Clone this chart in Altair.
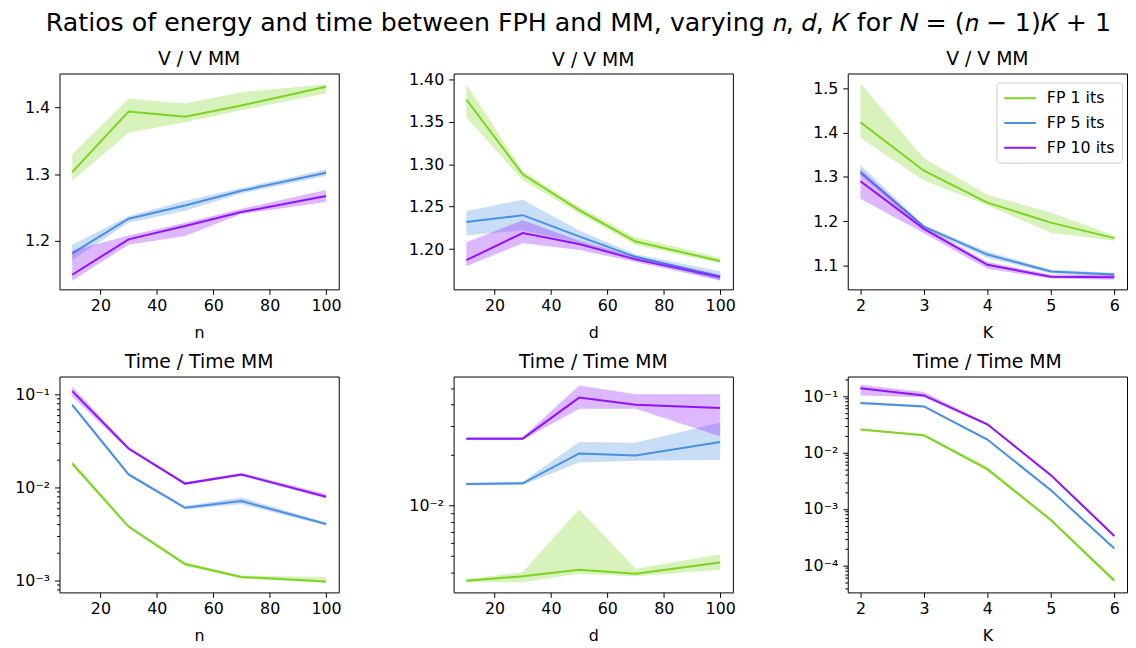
import math
import altair as alt
import pandas as pd

# ---------------- data ----------------
SERIES = ["FP 1 its", "FP 5 its", "FP 10 its"]
COLORS = ["#7ED321", "#4A90E2", "#9013FE"]

N_VALUES = [10, 30, 50, 70, 100]
D_VALUES = [10, 30, 50, 70, 100]
K_VALUES = [2, 3, 4, 5, 6]

# V / V MM vs n
VN_FP1 = [1.303, 1.394, 1.386, 1.403, 1.431]
VN_FP1_LO = [1.290, 1.362, 1.378, 1.396, 1.421]
VN_FP1_HI = [1.330, 1.413, 1.406, 1.423, 1.435]
VN_FP5 = [1.181, 1.233, 1.253, 1.275, 1.302]
VN_FP5_LO = [1.171, 1.227, 1.245, 1.271, 1.297]
VN_FP5_HI = [1.194, 1.237, 1.260, 1.279, 1.307]
VN_FP10 = [1.149, 1.202, 1.222, 1.243, 1.267]
VN_FP10_LO = [1.140, 1.194, 1.207, 1.240, 1.258]
VN_FP10_HI = [1.185, 1.208, 1.227, 1.248, 1.276]

# V / V MM vs d
VD_FP1 = [1.376, 1.288, 1.246, 1.209, 1.186]
VD_FP1_LO = [1.355, 1.281, 1.242, 1.205, 1.183]
VD_FP1_HI = [1.394, 1.292, 1.250, 1.214, 1.190]
VD_FP5 = [1.232, 1.240, 1.215, 1.191, 1.168]
VD_FP5_LO = [1.216, 1.222, 1.208, 1.189, 1.163]
VD_FP5_HI = [1.245, 1.258, 1.222, 1.194, 1.174]
VD_FP10 = [1.187, 1.219, 1.206, 1.188, 1.167]
VD_FP10_LO = [1.180, 1.207, 1.199, 1.185, 1.163]
VD_FP10_HI = [1.208, 1.234, 1.210, 1.191, 1.170]

# V / V MM vs K
VK_FP1 = [1.423, 1.314, 1.242, 1.197, 1.162]
VK_FP1_LO = [1.388, 1.292, 1.236, 1.174, 1.156]
VK_FP1_HI = [1.511, 1.342, 1.260, 1.220, 1.168]
VK_FP5 = [1.310, 1.188, 1.125, 1.087, 1.080]
VK_FP5_LO = [1.303, 1.183, 1.117, 1.083, 1.076]
VK_FP5_HI = [1.327, 1.191, 1.132, 1.091, 1.084]
VK_FP10 = [1.290, 1.183, 1.102, 1.075, 1.074]
VK_FP10_LO = [1.251, 1.173, 1.093, 1.071, 1.068]
VK_FP10_HI = [1.318, 1.188, 1.108, 1.080, 1.080]

# Time / Time MM vs n
TN_FP1 = [0.0181, 0.00379, 0.00150, 0.00109, 0.000975]
TN_FP1_LO = [0.0171, 0.00362, 0.00143, 0.00104, 0.000945]
TN_FP1_HI = [0.0192, 0.00395, 0.00157, 0.00113, 0.00109]
TN_FP5 = [0.0775, 0.0138, 0.00605, 0.00714, 0.00405]
TN_FP5_LO = [0.074, 0.0133, 0.0058, 0.0066, 0.0039]
TN_FP5_HI = [0.081, 0.0143, 0.0063, 0.0078, 0.0042]
TN_FP10 = [0.1086, 0.0262, 0.0110, 0.0138, 0.00794]
TN_FP10_LO = [0.0952, 0.0252, 0.0106, 0.0133, 0.0076]
TN_FP10_HI = [0.122, 0.0272, 0.0114, 0.0143, 0.0085]

# Time / Time MM vs d
TD_FP1 = [0.00357, 0.00379, 0.00415, 0.00393, 0.00458]
TD_FP1_LO = [0.00349, 0.00349, 0.00393, 0.00379, 0.00415]
TD_FP1_HI = [0.00365, 0.00402, 0.00952, 0.00420, 0.00514]
TD_FP5 = [0.01345, 0.0136, 0.0205, 0.0199, 0.0240]
TD_FP5_LO = [0.0132, 0.0133, 0.0181, 0.0185, 0.0187]
TD_FP5_HI = [0.0137, 0.0139, 0.0240, 0.0237, 0.0313]
TD_FP10 = [0.0251, 0.0251, 0.0441, 0.0400, 0.0382]
TD_FP10_LO = [0.0246, 0.0246, 0.0379, 0.0379, 0.0259]
TD_FP10_HI = [0.0256, 0.0256, 0.0521, 0.0461, 0.0461]

# Time / Time MM vs K
TK_FP1 = [0.0255, 0.0202, 0.00508, 0.00064, 0.0000543]
TK_FP1_LO = [0.0245, 0.0193, 0.0047, 0.00060, 0.000049]
TK_FP1_HI = [0.0265, 0.0212, 0.0056, 0.00068, 0.000059]
TK_FP5 = [0.0752, 0.0657, 0.0170, 0.00216, 0.000200]
TK_FP5_LO = [0.072, 0.063, 0.0163, 0.00207, 0.000190]
TK_FP5_HI = [0.079, 0.069, 0.0177, 0.00225, 0.000210]
TK_FP10 = [0.138, 0.1027, 0.0316, 0.00398, 0.000334]
TK_FP10_LO = [0.1027, 0.095, 0.0302, 0.0038, 0.000315]
TK_FP10_HI = [0.159, 0.118, 0.0330, 0.0042, 0.000355]

X_TICKS_ND = [20, 40, 60, 80, 100]
X_TICKS_K = [2, 3, 4, 5, 6]
X_DOMAIN_ND = [5.5, 104.5]
X_DOMAIN_K = [1.8, 6.2]

Y_DOMAIN_VN = [1.127, 1.451]
Y_DOMAIN_VD = [1.1527, 1.4066]
Y_DOMAIN_VK = [1.0465, 1.533]
Y_DOMAIN_TN = [7.43e-4, 0.156]
Y_DOMAIN_TD = [3.04e-3, 0.0589]
Y_DOMAIN_TK = [3.34e-5, 0.222]

Y_TICKS_VN = [1.2, 1.3, 1.4]
Y_TICKS_VD = [1.20, 1.25, 1.30, 1.35, 1.40]
Y_TICKS_VK = [1.1, 1.2, 1.3, 1.4, 1.5]
Y_TICKS_TN = [0.1, 0.01, 0.001]
Y_TICKS_TD = [0.01]
Y_TICKS_TK = [0.1, 0.01, 0.001, 0.0001]

FONT = "DejaVu Sans"
SUP = {-1: "10⁻¹", -2: "10⁻²", -3: "10⁻³", -4: "10⁻⁴"}

PW, PH = 282, 218
FS = 16

AXIS_STYLE = dict(
    labelFont=FONT, labelFontSize=FS, labelColor="black", tickColor="black",
    domain=False, grid=False,
    titleFont=FONT, titleFontSize=FS, titleFontWeight="normal", titleColor="black",
)


def make_df(xs, groups):
    rows = []
    for name, (m, lo, hi) in zip(SERIES, groups):
        for x, a, b, c in zip(xs, m, lo, hi):
            rows.append({"x": x, "series": name, "mean": a, "lo": b, "hi": c})
    return pd.DataFrame(rows)


def minor_ticks(domain):
    out = []
    for e in range(-6, 2):
        for k in range(2, 10):
            v = k * 10.0 ** e
            if domain[0] <= v <= domain[1]:
                out.append(v)
    return out


def log_label_expr(ticks):
    expr = "''"
    for t in ticks:
        e = int(round(math.log10(t)))
        expr = f"(abs(log(datum.value)/log(10) - ({e})) < 0.01) ? '{SUP[e]}' : " + expr
    return expr


def panel(xs, groups, title, xlabel, xdomain, xticks, ydomain, yticks, log, legend, yfmt, title_offset=5):
    df = make_df(xs, groups)
    base = alt.Chart(df)
    cscale = alt.Scale(domain=SERIES, range=COLORS)
    xenc = alt.X(
        "x:Q",
        scale=alt.Scale(domain=xdomain, nice=False, zero=False),
        axis=alt.Axis(values=xticks, title=xlabel, format="d", tickSize=5, labelPadding=3,
                      titlePadding=12, **AXIS_STYLE),
    )
    yscale = alt.Scale(type="log" if log else "linear", domain=ydomain, nice=False, zero=False)
    if log:
        major_axis = alt.Axis(
            values=yticks, title=None, orient="left", labelExpr=log_label_expr(yticks),
            tickSize=5, labelPadding=5, minExtent=50, maxExtent=50, **AXIS_STYLE,
        )
        minor_axis = alt.Axis(
            values=minor_ticks(ydomain), title=None, orient="left", labels=False,
            tickSize=3, tickColor="black", domain=False, grid=False, minExtent=5, maxExtent=5,
        )
    else:
        major_axis = alt.Axis(values=yticks, title=None, orient="left", format=yfmt,
                              tickSize=5, labelPadding=5, minExtent=50, maxExtent=50, **AXIS_STYLE)
        minor_axis = major_axis

    if legend:
        leg = alt.Legend(
            title=None, orient="none", legendX=150, legendY=9, symbolType="M-1,0L3,0",
            symbolSize=256, symbolStrokeWidth=2, symbolOpacity=1,
            labelFontSize=FS, labelFont=FONT,
            labelColor="black", padding=7, strokeColor="#cccccc", fillColor="white",
            cornerRadius=3, rowPadding=8, labelOffset=26,
        )
    else:
        leg = None

    line = base.mark_line(strokeWidth=2).encode(
        x=xenc,
        y=alt.Y("mean:Q", scale=yscale, axis=major_axis),
        color=alt.Color("series:N", scale=cscale, legend=leg),
    )
    area = base.mark_area(opacity=0.3, interpolate="linear").encode(
        x=xenc,
        y=alt.Y("lo:Q", scale=yscale, axis=minor_axis),
        y2="hi:Q",
        color=alt.Color("series:N", scale=cscale, legend=leg),
    )
    ch = alt.layer(line, area).properties(
        width=PW, height=PH,
        title=alt.TitleParams(title, fontSize=19, font=FONT, fontWeight="normal",
                              offset=title_offset, frame="group", color="black"),
    )
    if log:
        ch = ch.resolve_axis(y="independent")
    return ch


p1 = panel(N_VALUES, [(VN_FP1, VN_FP1_LO, VN_FP1_HI), (VN_FP5, VN_FP5_LO, VN_FP5_HI), (VN_FP10, VN_FP10_LO, VN_FP10_HI)],
           "V / V MM", "n", X_DOMAIN_ND, X_TICKS_ND, Y_DOMAIN_VN, Y_TICKS_VN, False, False, ".1f")
p2 = panel(D_VALUES, [(VD_FP1, VD_FP1_LO, VD_FP1_HI), (VD_FP5, VD_FP5_LO, VD_FP5_HI), (VD_FP10, VD_FP10_LO, VD_FP10_HI)],
           "V / V MM", "d", X_DOMAIN_ND, X_TICKS_ND, Y_DOMAIN_VD, Y_TICKS_VD, False, False, ".2f", title_offset=1)
p3 = panel(K_VALUES, [(VK_FP1, VK_FP1_LO, VK_FP1_HI), (VK_FP5, VK_FP5_LO, VK_FP5_HI), (VK_FP10, VK_FP10_LO, VK_FP10_HI)],
           "V / V MM", "K", X_DOMAIN_K, X_TICKS_K, Y_DOMAIN_VK, Y_TICKS_VK, False, True, ".1f")
p4 = panel(N_VALUES, [(TN_FP1, TN_FP1_LO, TN_FP1_HI), (TN_FP5, TN_FP5_LO, TN_FP5_HI), (TN_FP10, TN_FP10_LO, TN_FP10_HI)],
           "Time / Time MM", "n", X_DOMAIN_ND, X_TICKS_ND, Y_DOMAIN_TN, Y_TICKS_TN, True, False, None)
p5 = panel(D_VALUES, [(TD_FP1, TD_FP1_LO, TD_FP1_HI), (TD_FP5, TD_FP5_LO, TD_FP5_HI), (TD_FP10, TD_FP10_LO, TD_FP10_HI)],
           "Time / Time MM", "d", X_DOMAIN_ND, X_TICKS_ND, Y_DOMAIN_TD, Y_TICKS_TD, True, False, None)
p6 = panel(K_VALUES, [(TK_FP1, TK_FP1_LO, TK_FP1_HI), (TK_FP5, TK_FP5_LO, TK_FP5_HI), (TK_FP10, TK_FP10_LO, TK_FP10_HI)],
           "Time / Time MM", "K", X_DOMAIN_K, X_TICKS_K, Y_DOMAIN_TK, Y_TICKS_TK, True, False, None)

TITLE = "Ratios of energy and time between FPH and MM, varying 𝑛, 𝑑, 𝐾 for 𝑁 = (𝑛 − 1)𝐾 + 1"

chart = (
    alt.concat(p1, p2, p3, p4, p5, p6, columns=3, spacing={"row": 10, "column": 62})
    .resolve_scale(color="independent")
    .properties(
        title=alt.TitleParams(TITLE, fontSize=25.5, font=FONT, fontWeight="normal",
                              anchor="middle", offset=13, dx=10, color="black"),
        padding={"left": 1, "top": 0, "right": 0, "bottom": 0},
        background="white",
    )
    .configure_view(stroke="black", strokeWidth=1)
)

chart.save("out.html", embed_options={"renderer": "svg", "actions": False})
